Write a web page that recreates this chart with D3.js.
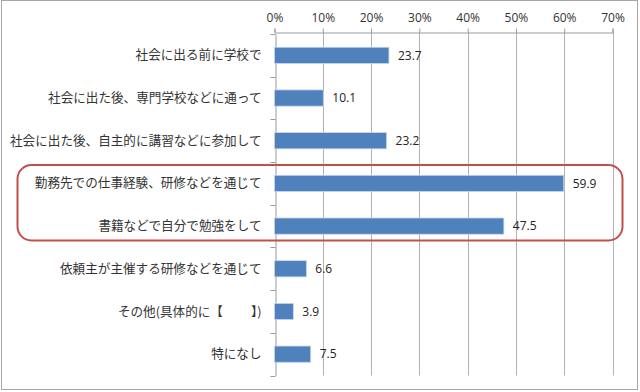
<!DOCTYPE html>
<html><head><meta charset="utf-8">
<script src="https://cdn.jsdelivr.net/npm/d3@7/dist/d3.min.js"></script>
<style>body{margin:0;background:#fff}svg{display:block}</style>
</head><body>
<script>
const categories = [
  "社会に出る前に学校で",
  "社会に出た後、専門学校などに通って",
  "社会に出た後、自主的に講習などに参加して",
  "勤務先での仕事経験、研修などを通じて",
  "書籍などで自分で勉強をして",
  "依頼主が主催する研修などを通じて",
  "その他(具体的に【　　 】)",
  "特になし"
];
const values = [23.7, 10.1, 23.2, 59.9, 47.5, 6.6, 3.9, 7.5];
const tickValues = [0, 10, 20, 30, 40, 50, 60, 70];
const highlighted = [categories[3], categories[4]];

const W = 640, H = 392;
const svg = d3.select("body").append("svg").attr("width", W).attr("height", H);

// outer frame
svg.append("rect").attr("x", 1.5).attr("y", 0.5).attr("width", 636).attr("height", 389)
  .attr("fill", "#fff").attr("stroke", "#a6a6a6");

const x = d3.scaleLinear().domain([0, 70]).range([274.5, 612.5]);
const y = d3.scaleBand().domain(categories).range([34, 375.5]).paddingInner(0.62).paddingOuter(0.31);
const yb = d3.scaleBand().domain(categories).range([34, 375.5]);

const axisTop = 32;
// gridlines
svg.append("g").selectAll("line").data(tickValues.slice(1)).join("line")
  .attr("x1", d => Math.round(x(d)) + 0.5).attr("x2", d => Math.round(x(d)) + 0.5)
  .attr("y1", axisTop).attr("y2", 375.5)
  .attr("stroke", "#b3b3b3").attr("stroke-width", 1);

// top value axis
const gx = svg.append("g").attr("transform", `translate(0,${axisTop + 0.5})`)
  .call(d3.axisTop(x).tickValues(tickValues).tickFormat(d => d + "%").tickSize(4).tickPadding(7));
gx.select(".domain").attr("stroke", "#9a9a9a");
gx.selectAll(".tick line").attr("stroke", "#9a9a9a");
gx.selectAll("text").attr("font-family", "'Open Sans', 'Liberation Sans', sans-serif")
  .attr("font-size", "12px").attr("fill", "#333");

// category axis
const gy = svg.append("g").attr("transform", `translate(${Math.round(x(0)) + 0.5},0)`)
  .call(d3.axisLeft(yb).tickSize(0).tickPadding(14));
gy.select(".domain").attr("stroke", "#9a9a9a");
gy.selectAll("text").attr("font-family", "'Noto Sans CJK JP', sans-serif")
  .attr("font-size", "12.6px").attr("fill", "#333");
// boundary ticks
const bounds = categories.map(c => yb(c)).concat([yb.range()[1]]);
gy.append("g").selectAll("line").data(bounds).join("line")
  .attr("x1", -5).attr("x2", 0)
  .attr("y1", d => Math.round(d) + 0.5).attr("y2", d => Math.round(d) + 0.5)
  .attr("stroke", "#9a9a9a");

// bars
svg.append("g").selectAll("rect").data(values).join("rect")
  .attr("x", x(0)).attr("y", (d, i) => y(categories[i]))
  .attr("width", d => x(d) - x(0)).attr("height", y.bandwidth())
  .attr("fill", "#4f81bd").attr("stroke", "#c6d6ec").attr("stroke-width", 0.8);

// value labels
svg.append("g").selectAll("text").data(values).join("text")
  .attr("x", d => x(d) + 9).attr("y", (d, i) => y(categories[i]) + y.bandwidth() / 2)
  .attr("dy", "0.36em")
  .attr("font-family", "'Open Sans', 'Liberation Sans', sans-serif")
  .attr("font-size", "12px").attr("fill", "#222")
  .text(d => d.toFixed(1));

// highlight box around two categories
const hTop = yb(highlighted[0]) + 3;
const hBot = yb(highlighted[1]) + yb.bandwidth() - 7;
svg.append("rect")
  .attr("x", 17.5).attr("y", hTop).attr("width", 605).attr("height", hBot - hTop)
  .attr("rx", 14).attr("ry", 14)
  .attr("fill", "none").attr("stroke", "#c0504d").attr("stroke-width", 2);
</script>
</body></html>
